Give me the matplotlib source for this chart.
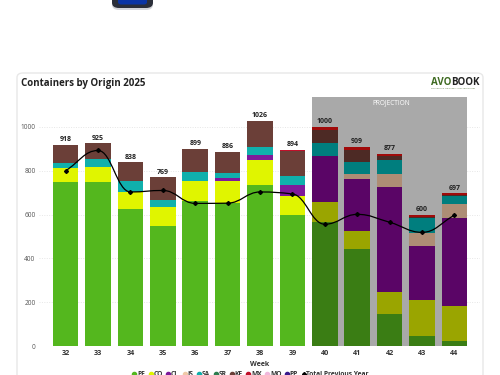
import matplotlib
matplotlib.use("Agg")
import matplotlib.pyplot as plt
from matplotlib.patches import FancyBboxPatch, PathPatch
from matplotlib.path import Path
from matplotlib.lines import Line2D
import numpy as np

plt.rcParams['font.family'] = ['Open Sans', 'DejaVu Sans']

weeks = ['32','33','34','35','36','37','38','39','40','41','42','43','44']
PE = [750,750,625,548,660,655,734,598,567,442,148,48,24]
CO = [60,68,78,88,93,98,114,88,91,84,101,161,159]
CL = [0,0,0,0,0,12,22,48,208,234,475,249,403]
IS = [0,0,0,0,0,0,0,0,0,23,61,59,62]
SA = [26,33,50,30,41,24,40,41,58,58,62,69,38]
SR = [0,0,0,0,0,0,0,0,0,0,0,0,0]
KE = [82,74,85,103,105,97,116,113,61,51,21,4,2]
MX = [0,0,0,0,0,0,0,6,15,17,9,10,9]
MO = [0,0,0,0,0,0,0,0,0,0,0,0,0]
PP = [0,0,0,0,0,0,0,0,0,0,0,0,0]
totals = [918,925,838,769,899,886,1026,894,1000,909,877,600,697]
previous = [800,892,703,710,651,652,703,694,556,601,565,519,597]
first_projection = 8

names = ['PE','CO','CL','IS','SA','SR','KE','MX','MO','PP']
series = [PE,CO,CL,IS,SA,SR,KE,MX,MO,PP]
colors = ['#54b71e','#e0f500','#7e1a9b','#f0c9a8','#10b0ac','#2e7d4f','#6b3f38','#c0102a','#f0b8dc','#3a1a8c']
dark = ['#3a7d14','#9aa500','#5a0566','#ad8d75','#007e7e','#1f5636','#4d2a25','#a00a0a','#a67f9a','#260f60']

W, H = 500, 375
fig = plt.figure(figsize=(5, 3.75), dpi=100)
fig.patch.set_facecolor('white')

def fx(x): return x / W
def fy(y): return 1 - y / H

# card
fig.add_artist(FancyBboxPatch((fx(17), fy(400)), (483-17)/W, (400-73)/H,
    boxstyle="round,pad=0,rounding_size=0.012", transform=fig.transFigure,
    fc='white', ec='#e8e8e8', lw=1.0, zorder=-2))
# fragment of a button at the top of the image
fig.add_artist(FancyBboxPatch((fx(112), fy(10)), 41/W, 22/H,
    boxstyle="round,pad=0,rounding_size=0.014", transform=fig.transFigure,
    fc='#d5d6da', ec='none', zorder=-3))
fig.add_artist(FancyBboxPatch((fx(112), fy(8)), 41/W, 20/H,
    boxstyle="round,pad=0,rounding_size=0.014", transform=fig.transFigure,
    fc='#2b2f3a', ec='none', zorder=-2))
fig.add_artist(FancyBboxPatch((fx(118), fy(4.5)), 29/W, 12/H,
    boxstyle="round,pad=0,rounding_size=0.006", transform=fig.transFigure,
    fc='#0b35a5', ec='none', zorder=-1))

ax_l, ax_r, ax_b, ax_t = 39, 480, 346.3, 96.7
ax = fig.add_axes([fx(ax_l), fy(ax_b), (ax_r-ax_l)/W, (ax_b-ax_t)/H])
ax.patch.set_alpha(0)
ax.set_xlim(-0.824, 12.79)
ax.set_ylim(0, 1137)
for s in ax.spines.values():
    s.set_visible(False)

ax.set_yticks([0,200,400,600,800,1000])
ax.yaxis.grid(True, color='#e6e6e6', lw=0.7, ls=(0,(1,1.5)), zorder=0)
ax.set_axisbelow(True)
ax.tick_params(axis='y', length=0, labelsize=4.7, labelcolor='#555555', pad=2.5)
ax.set_xticks(range(len(weeks)))
ax.set_xticklabels(weeks, fontsize=5.2, fontweight='bold', color='#333333')
ax.tick_params(axis='x', length=0, pad=3)
ax.set_xlabel('Week', fontsize=5, fontweight='bold', color='#333333', labelpad=2.2)

ax.axvspan(first_projection-0.41, 12.395, color='#a9a9a9', zorder=1, lw=0)
ax.text((first_projection+12)/2+0.05, 1110, 'PROJECTION', color='white', fontsize=4.7,
        ha='center', va='center', zorder=5)

x = np.arange(len(weeks))
bottom = np.zeros(len(weeks))
for vals, c, d in zip(series, colors, dark):
    vals = np.array(vals, float)
    cols = [c if i < first_projection else d for i in x]
    ax.bar(x, vals, 0.79, bottom=bottom, color=cols, zorder=2, lw=0)
    bottom += vals

for i, t in enumerate(totals):
    ax.annotate(str(t), (i, bottom[i]), xytext=(0, 1.2), textcoords='offset points',
                ha='center', va='bottom', fontsize=5, fontweight='bold',
                color='#222222', zorder=6)

# smooth monotone curve through the yearly totals, drawn as a bezier path
prev = np.array(previous, float)
diffs = np.diff(prev)
slope = np.zeros_like(prev)
slope[0], slope[-1] = diffs[0], diffs[-1]
for i in range(1, len(prev)-1):
    if diffs[i-1]*diffs[i] > 0:
        slope[i] = 2*diffs[i-1]*diffs[i]/(diffs[i-1]+diffs[i])
verts = [(x[0], prev[0])]
codes = [Path.MOVETO]
t = 0.42
for i in range(len(x)-1):
    verts += [(x[i]+t, prev[i]+slope[i]*t), (x[i+1]-t, prev[i+1]-slope[i+1]*t), (x[i+1], prev[i+1])]
    codes += [Path.CURVE4]*3
ax.add_patch(PathPatch(Path(verts, codes), fc='none', ec='black', lw=0.9, zorder=4))
ax.plot(x, prev, ls='none', marker='D', ms=2.0, color='black', zorder=5)

# title and logo
fig.text(fx(21), fy(83.5), 'Containers by Origin 2025', fontsize=7, fontweight='bold',
         color='#222222', ha='left', va='center')
fig.text(fx(431), fy(82.5), 'AVO', fontsize=7, fontweight='bold', color='#3f6b22', ha='left', va='center')
fig.text(fx(451.5), fy(82.5), 'BOOK', fontsize=7, fontweight='bold', color='#222222', ha='left', va='center')
fig.text(fx(431), fy(88.2), 'CONNECTING THE GLOBAL AVOCADO MARKET', fontsize=1.45, color='#4a6b30', ha='left', va='center')

# legend
handles = [Line2D([], [], ls='none', marker='o', ms=3.0, color=c) for c in colors]
handles.append(Line2D([], [], ls='none', marker='D', ms=2.0, color='black'))
labels = names + ['Total Previous Year']
leg = fig.legend(handles, labels, ncols=11, loc='center', bbox_to_anchor=(fx(250), fy(375)),
           frameon=False, columnspacing=0.35, handletextpad=-0.1, handlelength=1.0,
           borderpad=0, prop={'weight': 'bold', 'size': 4.8})
for tx in leg.get_texts():
    tx.set_color('#333333')

fig.savefig('out.png', dpi=100)
